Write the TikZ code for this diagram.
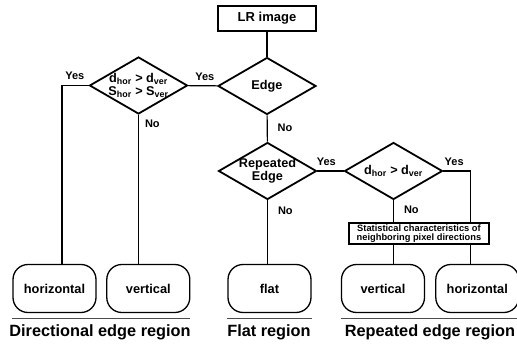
\documentclass[tikz,border=0pt]{standalone}
\usepackage{fontspec}
\setmainfont{Liberation Sans}
\usetikzlibrary{positioning,shapes.geometric}

\newcommand{\bsize}[1]{\fontsize{#1}{#1}\selectfont\bfseries}

\begin{document}
\begin{tikzpicture}[
        x=1pt, y=-1pt,
        inbox/.style={draw, line width=1.6pt, minimum width=98pt, minimum height=25pt,
                      font=\bsize{13}},
        decision/.style={diamond, draw, line width=1.8pt, minimum width=98pt,
                         minimum height=57pt, inner sep=-3pt, shape aspect=1.7,
                         align=center, font=\bsize{12.7}},
        region/.style={draw, line width=1.3pt, rounded corners=15pt, minimum width=83pt,
                       minimum height=48pt, font=\bsize{12.8}},
        statbox/.style={draw, fill=white, line width=1.3pt, minimum width=140pt,
                        minimum height=21pt, inner sep=1pt, align=center,
                        font=\fontsize{9.3}{9.3}\selectfont\bfseries},
        answer/.style={font=\bsize{11}, inner sep=1pt},
        caption/.style={font=\bsize{16.3}, inner sep=0pt},
        conn/.style={line width=1.1pt},
        uline/.style={line width=1pt, black!70}
    ]
        \useasboundingbox (0,0) rectangle (517,345);

        \node[inbox] (lr) at (267,18.5) {LR image};
        \node[decision] (edge) at (267,86) {Edge};
        \node[decision] (dd) at (138.5,85.5) {d\textsubscript{hor} > d\textsubscript{ver}\\S\textsubscript{hor} > S\textsubscript{ver}};
        \node[decision] (rep) at (267.5,171) {Repeated\\Edge};
        \node[decision] (rd) at (393.5,171) {d\textsubscript{hor} > d\textsubscript{ver}};

        \node[region] (dh) at (54.5,288.5) {horizontal};
        \node[region, right=9.5pt of dh] (dv) {vertical};
        \node[region] (flat) at (269.5,288.5) {flat};
        \node[region] (rv) at (383,288.5) {vertical};
        \node[region, right=10pt of rv] (rh) {horizontal};

        \coordinate (dhtop) at ([xshift=7.5pt]dh.north);
        \coordinate (rhtop) at ([xshift=-7pt]rh.north);

        \draw[conn] (lr) -- (edge);
        \draw[conn] (edge) -- (dd) node[answer, above=4pt, pos=0.43] (yes1) {Yes};
        \draw[conn] (dd.west) -| (dhtop) node[answer, above=4pt, pos=0.26] (yes2) {Yes};
        \draw[conn] (dd.south) -- (dd.south |- dv.north)
            node[answer, pos=0, below right=3pt and 5pt] (no1) {No};
        \draw[conn] (edge) -- (rep) node[answer, pos=0, below right=7.5pt and 9pt] (no2) {No};
        \draw[conn] (rep) -- (rd) node[answer, above=4pt, pos=0.34] (yes3) {Yes};
        \draw[conn] (rep.south) -- (rep.south |- flat.north)
            node[answer, pos=0, below right=4.5pt and 9pt] (no3) {No};
        \draw[conn] (rd.east) -| (rhtop) node[answer, above=4pt, pos=0.2] (yes4) {Yes};
        \draw[conn] (rd.south) -- (rd.south |- rv.north)
            node[answer, pos=0, below right=3.5pt and 9pt] (no4) {No};

        \node[statbox] (stat) at (419,233.5) {Statistical characteristics of\\neighboring pixel directions};

        % region underlines
        \draw[uline] ([yshift=-5pt]dh.south west) -- ([yshift=-5pt]dv.south east);
        \draw[uline] ([yshift=-5pt]flat.south west) -- ([yshift=-5pt]flat.south east);
        \draw[uline] ([yshift=-5pt]rv.south west) -- ([yshift=-5pt]rh.south east);

        \node[caption, anchor=base] (cap1) at (100,336) {Directional edge region};
        \node[caption, anchor=base] (cap2) at (269,336) {Flat region};
        \node[caption, anchor=base] (cap3) at (430,336) {Repeated edge region};
    \end{tikzpicture}
\end{document}
